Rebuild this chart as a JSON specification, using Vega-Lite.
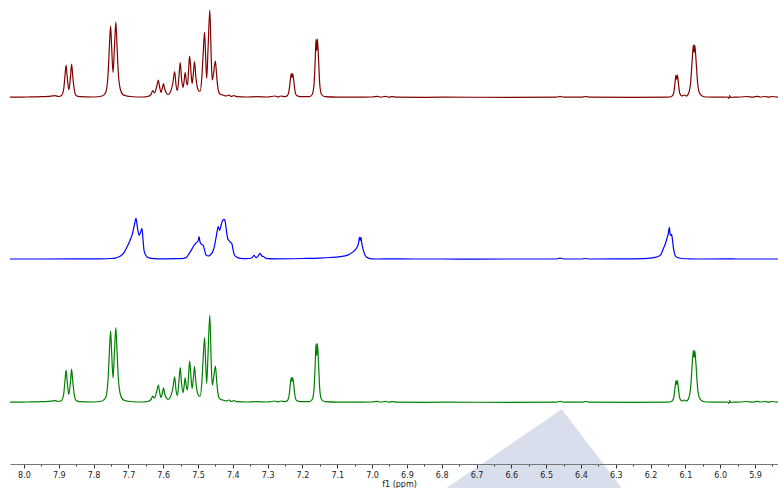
{
  "$schema": "https://vega.github.io/schema/vega-lite/v6.json",
  "width": 768,
  "height": 464,
  "autosize": {"type": "none"},
  "padding": {"left": 10, "top": 0, "right": 0, "bottom": 24},
  "background": "white",
  "config": {"view": {"stroke": null}, "font": "DejaVu Sans"},
  "datasets": {
    "red": [
      {"ppm": 8.04, "i": 0.3}, {"ppm": 7.99, "i": 0.5}, {"ppm": 7.95, "i": 0.8}, {"ppm": 7.93, "i": 1.2}, {"ppm": 7.911, "i": 1.8}, {"ppm": 7.9, "i": 1.0},
      {"ppm": 7.892, "i": 2.0}, {"ppm": 7.886, "i": 8}, {"ppm": 7.882, "i": 22}, {"ppm": 7.879, "i": 32.5}, {"ppm": 7.876, "i": 22}, {"ppm": 7.871, "i": 7.5},
      {"ppm": 7.866, "i": 22}, {"ppm": 7.863, "i": 33.5}, {"ppm": 7.86, "i": 22}, {"ppm": 7.855, "i": 7}, {"ppm": 7.85, "i": 2}, {"ppm": 7.84, "i": 0.8},
      {"ppm": 7.8, "i": 0.5}, {"ppm": 7.775, "i": 1.5}, {"ppm": 7.765, "i": 5}, {"ppm": 7.758, "i": 25}, {"ppm": 7.754, "i": 55}, {"ppm": 7.751, "i": 71.5},
      {"ppm": 7.748, "i": 50}, {"ppm": 7.744, "i": 25}, {"ppm": 7.74, "i": 50}, {"ppm": 7.736, "i": 75.5}, {"ppm": 7.733, "i": 55}, {"ppm": 7.729, "i": 25},
      {"ppm": 7.723, "i": 8}, {"ppm": 7.716, "i": 3}, {"ppm": 7.71, "i": 2}, {"ppm": 7.695, "i": 1}, {"ppm": 7.66, "i": 0.5}, {"ppm": 7.645, "i": 1},
      {"ppm": 7.635, "i": 3}, {"ppm": 7.63, "i": 7}, {"ppm": 7.625, "i": 4.5}, {"ppm": 7.618, "i": 12}, {"ppm": 7.614, "i": 17.5}, {"ppm": 7.61, "i": 10},
      {"ppm": 7.606, "i": 5}, {"ppm": 7.602, "i": 10}, {"ppm": 7.599, "i": 14}, {"ppm": 7.596, "i": 9}, {"ppm": 7.59, "i": 4}, {"ppm": 7.586, "i": 3},
      {"ppm": 7.58, "i": 5}, {"ppm": 7.572, "i": 15}, {"ppm": 7.567, "i": 26}, {"ppm": 7.563, "i": 12}, {"ppm": 7.559, "i": 7}, {"ppm": 7.555, "i": 20},
      {"ppm": 7.551, "i": 35}, {"ppm": 7.547, "i": 18}, {"ppm": 7.543, "i": 10}, {"ppm": 7.54, "i": 16}, {"ppm": 7.537, "i": 25}, {"ppm": 7.533, "i": 15},
      {"ppm": 7.53, "i": 12.5}, {"ppm": 7.527, "i": 28}, {"ppm": 7.524, "i": 41.5}, {"ppm": 7.52, "i": 25}, {"ppm": 7.517, "i": 14}, {"ppm": 7.513, "i": 25},
      {"ppm": 7.51, "i": 36}, {"ppm": 7.506, "i": 20}, {"ppm": 7.5, "i": 8}, {"ppm": 7.494, "i": 6}, {"ppm": 7.489, "i": 20}, {"ppm": 7.485, "i": 45},
      {"ppm": 7.481, "i": 65.5}, {"ppm": 7.478, "i": 40}, {"ppm": 7.475, "i": 19}, {"ppm": 7.471, "i": 50}, {"ppm": 7.466, "i": 87.5}, {"ppm": 7.462, "i": 40},
      {"ppm": 7.459, "i": 17.5}, {"ppm": 7.455, "i": 25}, {"ppm": 7.45, "i": 36.5}, {"ppm": 7.446, "i": 20}, {"ppm": 7.441, "i": 6}, {"ppm": 7.435, "i": 3},
      {"ppm": 7.428, "i": 2.5}, {"ppm": 7.42, "i": 1.5}, {"ppm": 7.411, "i": 2.5}, {"ppm": 7.404, "i": 1}, {"ppm": 7.397, "i": 2}, {"ppm": 7.39, "i": 0.8},
      {"ppm": 7.36, "i": 0.5}, {"ppm": 7.33, "i": 0.8}, {"ppm": 7.3, "i": 0.5}, {"ppm": 7.279, "i": 1.5}, {"ppm": 7.27, "i": 0.5}, {"ppm": 7.262, "i": 1.5},
      {"ppm": 7.25, "i": 0.8}, {"ppm": 7.243, "i": 2}, {"ppm": 7.238, "i": 8}, {"ppm": 7.234, "i": 20}, {"ppm": 7.232, "i": 24}, {"ppm": 7.23, "i": 20},
      {"ppm": 7.228, "i": 24}, {"ppm": 7.226, "i": 20}, {"ppm": 7.222, "i": 8}, {"ppm": 7.217, "i": 2}, {"ppm": 7.205, "i": 0.8}, {"ppm": 7.18, "i": 0.8},
      {"ppm": 7.172, "i": 3}, {"ppm": 7.167, "i": 12}, {"ppm": 7.163, "i": 40}, {"ppm": 7.161, "i": 58.5}, {"ppm": 7.159, "i": 47}, {"ppm": 7.157, "i": 58.5},
      {"ppm": 7.154, "i": 40}, {"ppm": 7.15, "i": 12}, {"ppm": 7.145, "i": 3}, {"ppm": 7.135, "i": 0.8}, {"ppm": 7.1, "i": 0.3}, {"ppm": 7.05, "i": 0.3},
      {"ppm": 7.0, "i": 0.5}, {"ppm": 6.985, "i": 1.2}, {"ppm": 6.975, "i": 0.4}, {"ppm": 6.962, "i": 1.1}, {"ppm": 6.952, "i": 0.4}, {"ppm": 6.942, "i": 0.9},
      {"ppm": 6.93, "i": 0.3}, {"ppm": 6.85, "i": 0.2}, {"ppm": 6.8, "i": 0.3}, {"ppm": 6.6, "i": 0.2}, {"ppm": 6.47, "i": 0.3}, {"ppm": 6.46, "i": 1.2},
      {"ppm": 6.45, "i": 0.3}, {"ppm": 6.4, "i": 0.3}, {"ppm": 6.385, "i": 1}, {"ppm": 6.375, "i": 0.3}, {"ppm": 6.25, "i": 0.2}, {"ppm": 6.15, "i": 0.3},
      {"ppm": 6.14, "i": 1}, {"ppm": 6.134, "i": 4}, {"ppm": 6.13, "i": 14}, {"ppm": 6.127, "i": 22.5}, {"ppm": 6.125, "i": 18}, {"ppm": 6.123, "i": 22.5},
      {"ppm": 6.12, "i": 14}, {"ppm": 6.116, "i": 4}, {"ppm": 6.11, "i": 1.5}, {"ppm": 6.103, "i": 2.5}, {"ppm": 6.097, "i": 1.5}, {"ppm": 6.09, "i": 5},
      {"ppm": 6.085, "i": 15}, {"ppm": 6.08, "i": 40}, {"ppm": 6.077, "i": 52.5}, {"ppm": 6.075, "i": 45}, {"ppm": 6.073, "i": 52.5}, {"ppm": 6.07, "i": 40},
      {"ppm": 6.065, "i": 15}, {"ppm": 6.06, "i": 5}, {"ppm": 6.052, "i": 1.5}, {"ppm": 6.04, "i": 0.5}, {"ppm": 6.0, "i": 0.3}, {"ppm": 5.98, "i": 0.5},
      {"ppm": 5.975, "i": -1}, {"ppm": 5.973, "i": 2}, {"ppm": 5.971, "i": 0.2}, {"ppm": 5.96, "i": 0.3}, {"ppm": 5.94, "i": 0.5}, {"ppm": 5.925, "i": 1},
      {"ppm": 5.905, "i": 0.4}, {"ppm": 5.893, "i": 1.2}, {"ppm": 5.885, "i": 0.5}, {"ppm": 5.87, "i": 1.0}, {"ppm": 5.86, "i": 0.3}, {"ppm": 5.853, "i": 1.0},
      {"ppm": 5.834, "i": 0.3}
    ],
    "green": [
      {"ppm": 8.04, "i": 0.3}, {"ppm": 7.99, "i": 0.5}, {"ppm": 7.95, "i": 0.8}, {"ppm": 7.93, "i": 1.2}, {"ppm": 7.911, "i": 1.8}, {"ppm": 7.9, "i": 1.0},
      {"ppm": 7.892, "i": 2.0}, {"ppm": 7.886, "i": 8}, {"ppm": 7.882, "i": 22}, {"ppm": 7.879, "i": 32.3}, {"ppm": 7.876, "i": 22}, {"ppm": 7.871, "i": 8},
      {"ppm": 7.866, "i": 22}, {"ppm": 7.863, "i": 33.3}, {"ppm": 7.86, "i": 22}, {"ppm": 7.855, "i": 7}, {"ppm": 7.85, "i": 2}, {"ppm": 7.84, "i": 0.8},
      {"ppm": 7.8, "i": 0.5}, {"ppm": 7.775, "i": 1.5}, {"ppm": 7.765, "i": 5}, {"ppm": 7.758, "i": 25}, {"ppm": 7.754, "i": 55}, {"ppm": 7.751, "i": 71.3},
      {"ppm": 7.748, "i": 50}, {"ppm": 7.744, "i": 24.7}, {"ppm": 7.74, "i": 50}, {"ppm": 7.736, "i": 75}, {"ppm": 7.733, "i": 55}, {"ppm": 7.729, "i": 25},
      {"ppm": 7.723, "i": 8}, {"ppm": 7.716, "i": 3}, {"ppm": 7.71, "i": 2}, {"ppm": 7.695, "i": 1}, {"ppm": 7.66, "i": 0.5}, {"ppm": 7.645, "i": 1},
      {"ppm": 7.635, "i": 3}, {"ppm": 7.63, "i": 6.3}, {"ppm": 7.625, "i": 4.5}, {"ppm": 7.618, "i": 12}, {"ppm": 7.614, "i": 17.3}, {"ppm": 7.61, "i": 10},
      {"ppm": 7.606, "i": 5}, {"ppm": 7.602, "i": 10}, {"ppm": 7.599, "i": 14.7}, {"ppm": 7.596, "i": 9}, {"ppm": 7.59, "i": 4}, {"ppm": 7.586, "i": 3},
      {"ppm": 7.58, "i": 5}, {"ppm": 7.572, "i": 15}, {"ppm": 7.567, "i": 25.7}, {"ppm": 7.563, "i": 12}, {"ppm": 7.559, "i": 7}, {"ppm": 7.555, "i": 20},
      {"ppm": 7.551, "i": 35}, {"ppm": 7.547, "i": 18}, {"ppm": 7.543, "i": 10}, {"ppm": 7.54, "i": 16}, {"ppm": 7.537, "i": 24.7}, {"ppm": 7.533, "i": 15},
      {"ppm": 7.53, "i": 12.5}, {"ppm": 7.527, "i": 28}, {"ppm": 7.524, "i": 41.3}, {"ppm": 7.52, "i": 25}, {"ppm": 7.517, "i": 14}, {"ppm": 7.513, "i": 25},
      {"ppm": 7.51, "i": 36}, {"ppm": 7.506, "i": 20}, {"ppm": 7.5, "i": 8}, {"ppm": 7.494, "i": 6}, {"ppm": 7.489, "i": 20}, {"ppm": 7.485, "i": 45},
      {"ppm": 7.481, "i": 65}, {"ppm": 7.478, "i": 40}, {"ppm": 7.475, "i": 19}, {"ppm": 7.471, "i": 50}, {"ppm": 7.466, "i": 87.3}, {"ppm": 7.462, "i": 40},
      {"ppm": 7.459, "i": 17.5}, {"ppm": 7.455, "i": 25}, {"ppm": 7.45, "i": 36.3}, {"ppm": 7.446, "i": 20}, {"ppm": 7.441, "i": 6}, {"ppm": 7.435, "i": 3},
      {"ppm": 7.428, "i": 2.5}, {"ppm": 7.42, "i": 1.5}, {"ppm": 7.411, "i": 2.5}, {"ppm": 7.404, "i": 1}, {"ppm": 7.397, "i": 2}, {"ppm": 7.39, "i": 0.8},
      {"ppm": 7.36, "i": 0.5}, {"ppm": 7.33, "i": 0.8}, {"ppm": 7.3, "i": 0.5}, {"ppm": 7.279, "i": 1.5}, {"ppm": 7.27, "i": 0.5}, {"ppm": 7.262, "i": 1.5},
      {"ppm": 7.25, "i": 0.8}, {"ppm": 7.243, "i": 2}, {"ppm": 7.238, "i": 8}, {"ppm": 7.234, "i": 21}, {"ppm": 7.232, "i": 25}, {"ppm": 7.23, "i": 21},
      {"ppm": 7.228, "i": 25}, {"ppm": 7.226, "i": 21}, {"ppm": 7.222, "i": 8}, {"ppm": 7.217, "i": 2}, {"ppm": 7.205, "i": 0.8}, {"ppm": 7.18, "i": 0.8},
      {"ppm": 7.172, "i": 3}, {"ppm": 7.167, "i": 12}, {"ppm": 7.163, "i": 41}, {"ppm": 7.161, "i": 59}, {"ppm": 7.159, "i": 47}, {"ppm": 7.157, "i": 59},
      {"ppm": 7.154, "i": 41}, {"ppm": 7.15, "i": 12}, {"ppm": 7.145, "i": 3}, {"ppm": 7.135, "i": 0.8}, {"ppm": 7.1, "i": 0.3}, {"ppm": 7.05, "i": 0.3},
      {"ppm": 7.0, "i": 0.5}, {"ppm": 6.985, "i": 1.2}, {"ppm": 6.975, "i": 0.4}, {"ppm": 6.962, "i": 1.1}, {"ppm": 6.952, "i": 0.4}, {"ppm": 6.942, "i": 0.9},
      {"ppm": 6.93, "i": 0.3}, {"ppm": 6.85, "i": 0.2}, {"ppm": 6.8, "i": 0.3}, {"ppm": 6.6, "i": 0.2}, {"ppm": 6.47, "i": 0.3}, {"ppm": 6.46, "i": 1.2},
      {"ppm": 6.45, "i": 0.3}, {"ppm": 6.4, "i": 0.3}, {"ppm": 6.385, "i": 1}, {"ppm": 6.375, "i": 0.3}, {"ppm": 6.25, "i": 0.2}, {"ppm": 6.15, "i": 0.3},
      {"ppm": 6.14, "i": 1}, {"ppm": 6.134, "i": 4}, {"ppm": 6.13, "i": 14}, {"ppm": 6.127, "i": 22}, {"ppm": 6.125, "i": 18}, {"ppm": 6.123, "i": 22},
      {"ppm": 6.12, "i": 14}, {"ppm": 6.116, "i": 4}, {"ppm": 6.11, "i": 1.5}, {"ppm": 6.103, "i": 2.5}, {"ppm": 6.097, "i": 1.5}, {"ppm": 6.09, "i": 5},
      {"ppm": 6.085, "i": 15}, {"ppm": 6.08, "i": 40}, {"ppm": 6.077, "i": 52}, {"ppm": 6.075, "i": 45}, {"ppm": 6.073, "i": 52}, {"ppm": 6.07, "i": 40},
      {"ppm": 6.065, "i": 15}, {"ppm": 6.06, "i": 5}, {"ppm": 6.052, "i": 1.5}, {"ppm": 6.04, "i": 0.5}, {"ppm": 6.0, "i": 0.3}, {"ppm": 5.98, "i": 0.5},
      {"ppm": 5.975, "i": -1}, {"ppm": 5.973, "i": 2}, {"ppm": 5.971, "i": 0.2}, {"ppm": 5.96, "i": 0.3}, {"ppm": 5.94, "i": 0.5}, {"ppm": 5.925, "i": 1},
      {"ppm": 5.905, "i": 0.4}, {"ppm": 5.893, "i": 1.2}, {"ppm": 5.885, "i": 0.5}, {"ppm": 5.87, "i": 1.0}, {"ppm": 5.86, "i": 0.3}, {"ppm": 5.853, "i": 1.0},
      {"ppm": 5.834, "i": 0.3}
    ],
    "blue": [
      {"ppm": 8.04, "i": 0.3}, {"ppm": 7.95, "i": 0.3}, {"ppm": 7.85, "i": 0.4}, {"ppm": 7.78, "i": 0.5}, {"ppm": 7.75, "i": 0.8}, {"ppm": 7.735, "i": 1.5},
      {"ppm": 7.724, "i": 3}, {"ppm": 7.712, "i": 7}, {"ppm": 7.703, "i": 13}, {"ppm": 7.695, "i": 19}, {"ppm": 7.688, "i": 26}, {"ppm": 7.683, "i": 34},
      {"ppm": 7.678, "i": 41}, {"ppm": 7.674, "i": 32}, {"ppm": 7.669, "i": 24}, {"ppm": 7.665, "i": 27}, {"ppm": 7.661, "i": 31}, {"ppm": 7.658, "i": 20},
      {"ppm": 7.655, "i": 9}, {"ppm": 7.65, "i": 4}, {"ppm": 7.645, "i": 2}, {"ppm": 7.635, "i": 1}, {"ppm": 7.6, "i": 0.5}, {"ppm": 7.56, "i": 0.6},
      {"ppm": 7.54, "i": 1}, {"ppm": 7.533, "i": 2}, {"ppm": 7.525, "i": 6}, {"ppm": 7.518, "i": 10}, {"ppm": 7.513, "i": 13}, {"ppm": 7.507, "i": 16},
      {"ppm": 7.5, "i": 18}, {"ppm": 7.497, "i": 22.7}, {"ppm": 7.494, "i": 17}, {"ppm": 7.49, "i": 15}, {"ppm": 7.485, "i": 14}, {"ppm": 7.481, "i": 9},
      {"ppm": 7.477, "i": 4.3}, {"ppm": 7.47, "i": 3.3}, {"ppm": 7.463, "i": 5}, {"ppm": 7.456, "i": 9}, {"ppm": 7.45, "i": 18}, {"ppm": 7.446, "i": 26},
      {"ppm": 7.442, "i": 32.7}, {"ppm": 7.438, "i": 29}, {"ppm": 7.433, "i": 35}, {"ppm": 7.429, "i": 39}, {"ppm": 7.425, "i": 40}, {"ppm": 7.421, "i": 36},
      {"ppm": 7.418, "i": 27.7}, {"ppm": 7.414, "i": 20}, {"ppm": 7.411, "i": 19}, {"ppm": 7.407, "i": 17}, {"ppm": 7.403, "i": 16}, {"ppm": 7.399, "i": 9},
      {"ppm": 7.395, "i": 4}, {"ppm": 7.388, "i": 2}, {"ppm": 7.379, "i": 1}, {"ppm": 7.36, "i": 0.6}, {"ppm": 7.345, "i": 1.5}, {"ppm": 7.339, "i": 4},
      {"ppm": 7.335, "i": 2.2}, {"ppm": 7.331, "i": 2}, {"ppm": 7.326, "i": 4}, {"ppm": 7.322, "i": 6}, {"ppm": 7.317, "i": 3.5}, {"ppm": 7.312, "i": 2.7},
      {"ppm": 7.305, "i": 1}, {"ppm": 7.28, "i": 0.5}, {"ppm": 7.2, "i": 0.8}, {"ppm": 7.15, "i": 1.2}, {"ppm": 7.12, "i": 1.8}, {"ppm": 7.092, "i": 2.7},
      {"ppm": 7.07, "i": 4.2}, {"ppm": 7.054, "i": 7.7}, {"ppm": 7.045, "i": 11}, {"ppm": 7.039, "i": 16}, {"ppm": 7.036, "i": 22}, {"ppm": 7.034, "i": 19},
      {"ppm": 7.032, "i": 22}, {"ppm": 7.029, "i": 15}, {"ppm": 7.025, "i": 9}, {"ppm": 7.02, "i": 4}, {"ppm": 7.015, "i": 2}, {"ppm": 7.005, "i": 0.7},
      {"ppm": 6.99, "i": 0.3}, {"ppm": 6.95, "i": 0.4}, {"ppm": 6.88, "i": 0.3}, {"ppm": 6.8, "i": 0.3}, {"ppm": 6.7, "i": 0.2}, {"ppm": 6.6, "i": 0.3},
      {"ppm": 6.47, "i": 0.3}, {"ppm": 6.46, "i": 1.2}, {"ppm": 6.45, "i": 0.3}, {"ppm": 6.4, "i": 0.3}, {"ppm": 6.388, "i": 0.8}, {"ppm": 6.375, "i": 0.3},
      {"ppm": 6.3, "i": 0.4}, {"ppm": 6.25, "i": 0.5}, {"ppm": 6.22, "i": 0.7}, {"ppm": 6.2, "i": 1.2}, {"ppm": 6.18, "i": 2.5}, {"ppm": 6.17, "i": 5},
      {"ppm": 6.163, "i": 11}, {"ppm": 6.157, "i": 16}, {"ppm": 6.153, "i": 21}, {"ppm": 6.149, "i": 26}, {"ppm": 6.146, "i": 32}, {"ppm": 6.144, "i": 25},
      {"ppm": 6.142, "i": 24}, {"ppm": 6.14, "i": 25}, {"ppm": 6.138, "i": 22}, {"ppm": 6.135, "i": 13}, {"ppm": 6.132, "i": 7}, {"ppm": 6.128, "i": 3},
      {"ppm": 6.12, "i": 1.5}, {"ppm": 6.109, "i": 0.8}, {"ppm": 6.09, "i": 0.5}, {"ppm": 6.05, "i": 0.3}, {"ppm": 5.98, "i": 0.4}, {"ppm": 5.95, "i": 0.3},
      {"ppm": 5.9, "i": 0.3}, {"ppm": 5.834, "i": 0.3}
    ],
    "watermark": [
      {"ppm": 6.786, "top": -24, "bot": -24},
      {"ppm": 6.455, "top": 54.7, "bot": -24},
      {"ppm": 6.283, "top": -24, "bot": -24}
    ]
  },
  "encoding": {
    "x": {
      "field": "ppm",
      "type": "quantitative",
      "scale": {"domain": [5.834, 8.04], "reverse": true, "nice": false, "zero": false},
      "axis": null
    }
  },
  "layer": [
    {
      "data": {"name": "watermark"},
      "mark": {"type": "area", "color": "#d9deec", "opacity": 1},
      "encoding": {
        "x": {
          "field": "ppm", "type": "quantitative",
          "axis": {
            "orient": "bottom", "zindex": 1,
            "values": [7.95, 7.85, 7.75, 7.65, 7.55, 7.45, 7.35, 7.25, 7.15, 7.05, 6.95, 6.85, 6.75, 6.65, 6.55, 6.45, 6.35, 6.25, 6.15, 6.05, 5.95, 5.85],
            "labels": false, "domain": false, "grid": false, "title": null,
            "tickSize": 2, "tickColor": "#333333", "tickWidth": 1
          }
        },
        "y": {"field": "top", "type": "quantitative", "scale": {"domain": [0, 464]}, "axis": null},
        "y2": {"field": "bot"}
      }
    },
    {
      "data": {"name": "red"},
      "mark": {"type": "line", "color": "#800000", "strokeWidth": 1.2, "interpolate": "monotone"},
      "encoding": {
        "x": {
          "field": "ppm", "type": "quantitative",
          "axis": {
            "orient": "bottom", "zindex": 1,
            "values": [8.0, 7.9, 7.8, 7.7, 7.6, 7.5, 7.4, 7.3, 7.2, 7.1, 7.0, 6.9, 6.8, 6.7, 6.6, 6.5, 6.4, 6.3, 6.2, 6.1, 6.0, 5.9],
            "format": ".1f", "grid": false,
            "domainColor": "#777777", "domainWidth": 1,
            "tickSize": 4, "tickColor": "#333333", "tickWidth": 1,
            "labelFont": "DejaVu Sans", "labelFontSize": 8, "labelColor": "#222222", "labelPadding": 3,
            "title": "f1 (ppm)", "titleFont": "DejaVu Sans", "titleFontSize": 8, "titleFontWeight": "normal", "titleColor": "#222222", "titlePadding": 1,
            "titleX": 389
          }
        },
        "y": {"field": "i", "type": "quantitative", "scale": {"domain": [-366.5, 97.5], "nice": false, "zero": false}, "axis": null}
      }
    },
    {
      "data": {"name": "blue"},
      "mark": {"type": "line", "color": "#0000ff", "strokeWidth": 1.2, "interpolate": "monotone"},
      "encoding": {
        "y": {"field": "i", "type": "quantitative", "scale": {"domain": [-204.7, 259.3], "nice": false, "zero": false}, "axis": null}
      }
    },
    {
      "data": {"name": "green"},
      "mark": {"type": "line", "color": "#008000", "strokeWidth": 1.2, "interpolate": "monotone"},
      "encoding": {
        "y": {"field": "i", "type": "quantitative", "scale": {"domain": [-61.5, 402.5], "nice": false, "zero": false}, "axis": null}
      }
    }
  ],
  "resolve": {"scale": {"y": "independent"}, "axis": {"x": "independent"}}
}
